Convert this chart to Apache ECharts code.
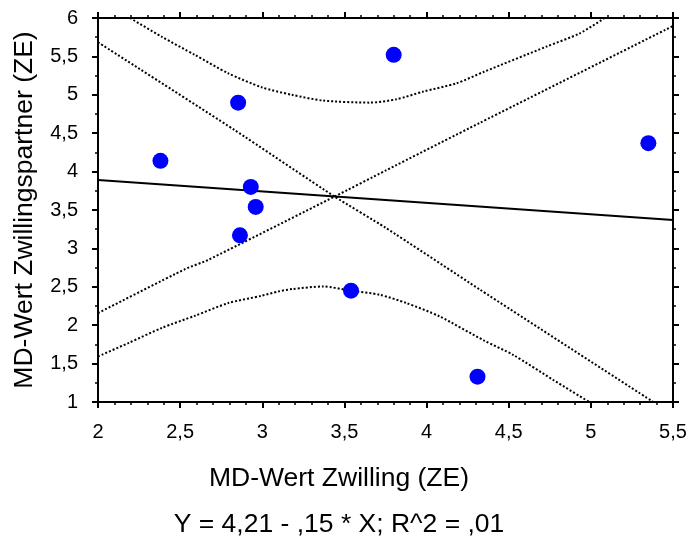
<!DOCTYPE html>
<html><head><meta charset="utf-8">
<script src="https://cdn.jsdelivr.net/npm/echarts@6/dist/echarts.min.js"></script>
<style>html,body{margin:0;padding:0;background:#fff}#c{width:691px;height:538px}</style>
</head><body><div id="c"></div>
<script>
const scatterX = [2.38, 2.853, 2.93, 2.96, 2.864, 3.80, 5.35, 3.54, 4.31];
const scatterY = [4.14, 4.898, 3.80, 3.54, 3.17, 5.52, 4.37, 2.45, 1.33];

const regX = [2.0, 5.5];
const regY = [3.89, 3.37];

const ciDownX = [2.0, 2.83, 3.44, 3.75, 4.32, 5.38];
const ciDownY = [5.684, 4.543, 3.675, 3.27, 2.47, 1.0];

const ciUpX = [2.0, 2.53, 2.67, 3.44, 3.75, 4.32, 5.5];
const ciUpY = [2.158, 2.73, 2.85, 3.675, 4.013, 4.63, 5.896];

const predUpperX = [2.195, 2.387, 2.59, 2.793, 2.996, 3.18, 3.37, 3.655, 3.817, 3.979, 4.182, 4.35, 4.729, 4.932, 5.084];
const predUpperY = [6.0, 5.757, 5.519, 5.28, 5.098, 5.0, 4.925, 4.898, 4.942, 5.041, 5.15, 5.30, 5.627, 5.80, 6.0];

const predLowerX = [2.0, 2.184, 2.387, 2.59, 2.793, 2.996, 3.097, 3.18, 3.37, 3.533, 3.715, 3.877, 4.08, 4.35, 4.526, 4.769, 4.99];
const predLowerY = [1.593, 1.767, 1.963, 2.123, 2.288, 2.383, 2.439, 2.47, 2.504, 2.452, 2.396, 2.288, 2.114, 1.80, 1.615, 1.29, 1.0];

const xTitle = 'MD-Wert Zwilling (ZE)';
const yTitle = 'MD-Wert Zwillingspartner (ZE)';
const formula = 'Y = 4,21 - ,15 * X; R^2 = ,01';

const zip = (a, b) => a.map((v, i) => [v, b[i]]);
const FONT = '"Liberation Sans", Arial, sans-serif';
const fmt = v => String(v).replace('.', ',');

const axisBase = {
  type: 'value',
  axisLine: { show: true, onZero: false, lineStyle: { color: '#000', width: 2 } },
  axisTick: { show: true, inside: false, length: 6, lineStyle: { color: '#000', width: 2 } },
  minorTick: { show: true, length: 3, lineStyle: { color: '#000', width: 1.5 } },
  splitLine: { show: false },
  minorSplitLine: { show: false }
};

const dotted = { color: '#000', width: 2, type: [2, 2] };

const chart = echarts.init(document.getElementById('c'));
chart.setOption({
  animation: false,
  backgroundColor: '#fff',
  grid: { left: 98, right: 18, top: 18, bottom: 136, containLabel: false },
  xAxis: [
    Object.assign({}, axisBase, {
      position: 'bottom', min: 2, max: 5.5, interval: 0.5,
      minorTick: Object.assign({}, axisBase.minorTick, { splitNumber: 5 }),
      axisLabel: { color: '#000', fontSize: 20, fontFamily: FONT, margin: 20, formatter: fmt }
    }),
    Object.assign({}, axisBase, {
      position: 'top', min: 2, max: 5.5, interval: 0.5,
      minorTick: Object.assign({}, axisBase.minorTick, { splitNumber: 5 }),
      axisLabel: { show: false }
    })
  ],
  yAxis: [
    Object.assign({}, axisBase, {
      position: 'left', min: 1, max: 6, interval: 0.5,
      minorTick: Object.assign({}, axisBase.minorTick, { splitNumber: 2 }),
      axisLabel: { color: '#000', fontSize: 20, fontFamily: FONT, margin: 20, formatter: fmt }
    }),
    Object.assign({}, axisBase, {
      position: 'right', min: 1, max: 6, interval: 0.5,
      minorTick: Object.assign({}, axisBase.minorTick, { splitNumber: 2 }),
      axisLabel: { show: false }
    })
  ],
  series: [
    { type: 'line', data: zip(predUpperX, predUpperY), smooth: 0.25, showSymbol: false, lineStyle: dotted, z: 2 },
    { type: 'line', data: zip(predLowerX, predLowerY), smooth: 0.25, showSymbol: false, lineStyle: dotted, z: 2 },
    { type: 'line', data: zip(ciDownX, ciDownY), smooth: 0.2, showSymbol: false, lineStyle: dotted, z: 2 },
    { type: 'line', data: zip(ciUpX, ciUpY), smooth: 0.2, showSymbol: false, lineStyle: dotted, z: 2 },
    { type: 'line', data: zip(regX, regY), showSymbol: false, lineStyle: { color: '#000', width: 2 }, z: 3 },
    { type: 'scatter', data: zip(scatterX, scatterY), symbol: 'circle', symbolSize: 16, itemStyle: { color: '#0000ff', opacity: 1 }, z: 4 }
  ],
  graphic: [
    { type: 'text', x: 339, y: 479, style: { text: xTitle, fill: '#000', font: '26.5px ' + FONT, textAlign: 'center', textVerticalAlign: 'middle' } },
    { type: 'text', x: 339, y: 525, style: { text: formula, fill: '#000', font: '26.5px ' + FONT, textAlign: 'center', textVerticalAlign: 'middle' } },
    { type: 'text', x: 25, y: 210, rotation: Math.PI / 2, style: { text: yTitle, fill: '#000', font: '26.5px ' + FONT, textAlign: 'center', textVerticalAlign: 'middle' } }
  ]
});
</script></body></html>
